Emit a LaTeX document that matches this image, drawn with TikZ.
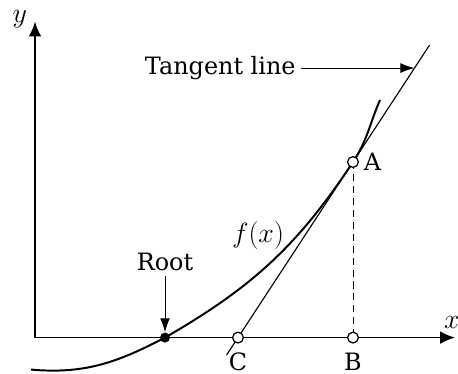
\documentclass[tikz,border=0pt]{standalone}
\usepackage{fontspec}
\setmainfont{DejaVu Serif}
\usetikzlibrary{arrows.meta,calc,positioning}
\tikzset{
  axis/.style={line width=1.2pt, -{Latex[length=10.5pt,width=9pt]}},
  pointer/.style={line width=0.7pt, -{Latex[length=10pt,width=7pt]}},
  hole/.style={circle, draw, line width=0.9pt, fill=white, inner sep=0pt, minimum size=0.27cm},
  dot/.style={circle, fill=black, inner sep=0pt, minimum size=0.25cm},
  mathlbl/.style={scale=1.15, transform shape},
}
\begin{document}
\begin{tikzpicture}[font=\fontsize{17}{20}\selectfont]
        \useasboundingbox (-0.875,-0.91) rectangle (10.575,8.44);
        % Axes
        \coordinate (O) at (0,0);
        \draw[axis] (O) -- (10.5,0) coordinate (xend);
        \draw[axis] (O) -- (0,7.9) coordinate (yend);
        \node[mathlbl] (xlbl) at (10.42,0.38) {$x$};
        \node[mathlbl] (ylbl) at (-0.38,7.95) {$y$};
        % Key points
        \coordinate (pr) at (3.25,0);
        \coordinate (pc) at (5.075,0);
        \coordinate (pb) at (7.95,0);
        \coordinate (pa) at (7.95,4.39);
        % Tangent line through A and C
        \draw[line width=0.8pt] ($(pc)!-0.1!(pa)$) -- ($(pc)!1.665!(pa)$);
        \coordinate (pt) at ($(pc)!1.535!(pa)$);
        \draw[dash pattern=on 5pt off 3.5pt, line width=0.7pt] (pa) -- (pb);
        % Curve f(x)
        \draw[line width=1.4pt] (-0.1,-0.8) to[out=-5,in=207.5] (pr)
            to[out=30,in=236.5] (pa) to[out=56.5,in=246.5] (8.625,5.94);
        % Points
        \node[dot] (root) at (pr) {};
        \node[hole] (C) at (pc) {};
        \node[hole] (B) at (pb) {};
        \node[hole] (A) at (pa) {};
        % Labels
        \node[below=0.1cm of C] (clbl) {C};
        \node[below=0.1cm of B] (blbl) {B};
        \node[right=0cm of A] (albl) {A};
        \node (rootlbl) at (3.25,1.89) {Root};
        \draw[pointer] (rootlbl) -- (root);
        \node[mathlbl] (flbl) at (5.575,2.54) {$f(x)$};
        \node[left=2.85cm of pt] (tang) {Tangent line};
        \draw[pointer] (tang) -- (pt);
    \end{tikzpicture}
\end{document}
